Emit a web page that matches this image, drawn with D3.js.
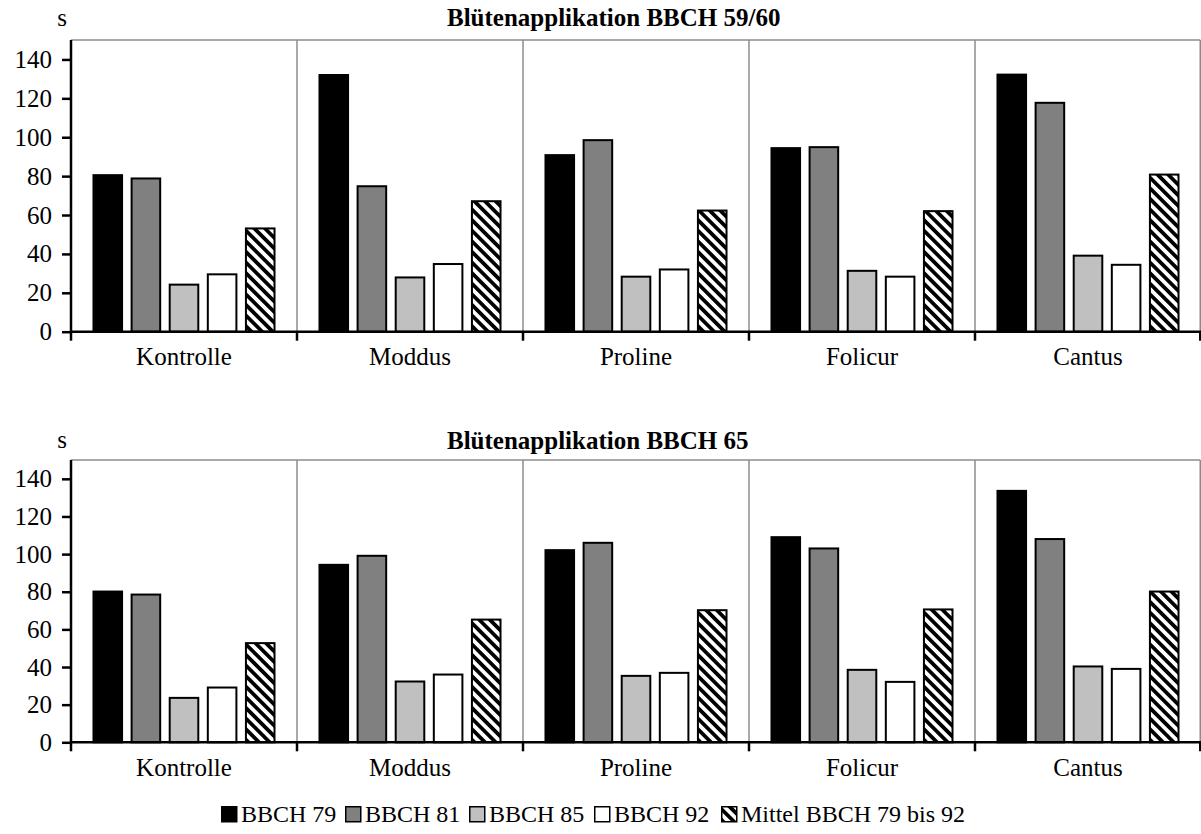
<!DOCTYPE html>
<html>
<head>
<meta charset="utf-8">
<script src="https://cdn.jsdelivr.net/npm/d3@7"></script>
<style>
  html, body { margin: 0; padding: 0; background: #fff; }
  svg { display: block; }
  text { font-family: "Liberation Serif", "DejaVu Serif", serif; fill: #000; }
</style>
</head>
<body>
<svg id="chart" width="1201" height="834"></svg>
<script>
// ---------- data ----------
const categories = ["Kontrolle", "Moddus", "Proline", "Folicur", "Cantus"];
const seriesNames = ["BBCH 79", "BBCH 81", "BBCH 85", "BBCH 92", "Mittel BBCH 79 bis 92"];
const yTicks = [0, 20, 40, 60, 80, 100, 120, 140];
const titleTop = "Blütenapplikation BBCH 59/60";
const titleBottom = "Blütenapplikation BBCH 65";
const unitLabel = "s";

// Blütenapplikation BBCH 59/60
const top_BBCH79 = [80.5, 132.0, 90.8, 94.4, 132.2];
const top_BBCH81 = [78.8, 74.8, 98.5, 94.9, 117.7];
const top_BBCH85 = [24.2, 27.9, 28.3, 31.3, 39.1];
const top_BBCH92 = [29.5, 34.8, 32.0, 28.3, 34.4];
const top_Mittel = [53.1, 67.1, 62.3, 62.0, 80.8];

// Blütenapplikation BBCH 65
const bot_BBCH79 = [80.1, 94.3, 102.1, 109.0, 133.6];
const bot_BBCH81 = [78.5, 99.1, 106.0, 103.0, 108.0];
const bot_BBCH85 = [23.6, 32.3, 35.3, 38.5, 40.3];
const bot_BBCH92 = [29.1, 36.0, 36.9, 32.1, 39.0];
const bot_Mittel = [52.7, 65.2, 70.2, 70.6, 80.1];

// ---------- styles ----------
const fills = ["#000000", "#808080", "#c0c0c0", "#ffffff", "url(#hatch)"];
const FONT = '"Liberation Serif", "DejaVu Serif", serif';
const tickFont = 25, catFont = 25, legendFont = 24, titleFont = 25;

const svg = d3.select("#chart");
const defs = svg.append("defs");
const pat = defs.append("pattern")
  .attr("id", "hatch")
  .attr("patternUnits", "userSpaceOnUse")
  .attr("width", 7.5).attr("height", 7.5)
  .attr("patternTransform", "rotate(45)");
pat.append("rect").attr("width", 7.5).attr("height", 7.5).attr("fill", "#fff");
pat.append("rect").attr("width", 7.5).attr("height", 3.75).attr("fill", "#000");

const xLeft = 71, xRight = 1201;

function drawPanel(cfg) {
  const data = categories.map((c, i) => ({
    cat: c,
    vals: cfg.series.map((s, j) => ({ key: seriesNames[j], value: s[i], idx: j }))
  }));

  const x0 = d3.scaleBand().domain(categories).range([xLeft, xRight]).padding(0);
  const x1 = d3.scaleBand().domain(seriesNames).range([0, x0.bandwidth()])
    .paddingInner(0.25).paddingOuter(0.59);
  const y = d3.scaleLinear().domain([0, 150]).range([cfg.y0, cfg.yTop]);

  const g = svg.append("g");

  // gray frame: top and right borders + dividers
  g.append("line").attr("x1", xLeft).attr("x2", xRight - 0.75)
    .attr("y1", y(150)).attr("y2", y(150))
    .attr("stroke", "#8c8c8c").attr("stroke-width", 1.5);
  g.append("line").attr("x1", xRight - 0.75).attr("x2", xRight - 0.75)
    .attr("y1", y(150)).attr("y2", y(0))
    .attr("stroke", "#8c8c8c").attr("stroke-width", 1.5);
  g.selectAll("line.div").data(categories.slice(1)).join("line")
    .attr("class", "div")
    .attr("x1", d => x0(d)).attr("x2", d => x0(d))
    .attr("y1", y(150)).attr("y2", y(0))
    .attr("stroke", "#8c8c8c").attr("stroke-width", 1.5);

  // bars
  const groups = g.selectAll("g.grp").data(data).join("g")
    .attr("class", "grp")
    .attr("transform", d => `translate(${x0(d.cat)},0)`);
  groups.selectAll("rect").data(d => d.vals).join("rect")
    .attr("x", d => x1(d.key))
    .attr("width", x1.bandwidth())
    .attr("y", d => y(d.value))
    .attr("height", d => y(0) - y(d.value))
    .attr("fill", d => fills[d.idx])
    .attr("stroke", "#000").attr("stroke-width", 2);

  // y axis
  const yAxis = d3.axisLeft(y).tickValues(yTicks).tickSize(9).tickPadding(10).tickSizeOuter(0);
  const ya = g.append("g").attr("transform", `translate(${xLeft},0)`).call(yAxis)
    .attr("font-family", FONT).attr("font-size", tickFont);
  ya.select(".domain").attr("stroke", "#000").attr("stroke-width", 2.5)
    .attr("d", `M0,${y(0)}V${y(150)}`);
  ya.selectAll(".tick line").attr("stroke", "#000").attr("stroke-width", 2.5);

  // x axis
  const xAxis = d3.axisBottom(x0).tickSize(0).tickPadding(16);
  const xa = g.append("g").attr("transform", `translate(0,${y(0)})`).call(xAxis)
    .attr("font-family", FONT).attr("font-size", catFont);
  xa.select(".domain").attr("stroke", "#000").attr("stroke-width", 2.5)
    .attr("d", `M${xLeft},0H${xRight}`);
  // boundary ticks between categories
  const bounds = categories.map(c => x0(c)).concat([xRight - 0.75]);
  xa.selectAll("line.bt").data(bounds).join("line")
    .attr("class", "bt")
    .attr("x1", d => d).attr("x2", d => d)
    .attr("y1", 0).attr("y2", 9)
    .attr("stroke", "#000").attr("stroke-width", 2.5);

  // title and unit
  svg.append("text").attr("x", 447).attr("y", cfg.titleY)
    .attr("text-anchor", "start").attr("font-weight", "bold").attr("font-size", titleFont)
    .text(cfg.title);
  svg.append("text").attr("x", 62).attr("y", cfg.unitY)
    .attr("text-anchor", "middle").attr("font-size", tickFont)
    .text(unitLabel);
}

drawPanel({
  series: [top_BBCH79, top_BBCH81, top_BBCH85, top_BBCH92, top_Mittel],
  y0: 331.7, yTop: 40, title: titleTop, titleY: 26, unitY: 26
});
drawPanel({
  series: [bot_BBCH79, bot_BBCH81, bot_BBCH85, bot_BBCH92, bot_Mittel],
  y0: 742.3, yTop: 460, title: titleBottom, titleY: 449, unitY: 448
});

// ---------- legend ----------
const legendX = [221, 345, 469, 594, 721];
const leg = svg.append("g");
const items = leg.selectAll("g").data(seriesNames).join("g")
  .attr("transform", (d, i) => `translate(${legendX[i]},806)`);
items.append("rect").attr("x", 0.75).attr("y", 0.75).attr("width", 15).attr("height", 15)
  .attr("fill", (d, i) => fills[i]).attr("stroke", "#000").attr("stroke-width", 1.5);
items.append("text").attr("x", 20).attr("y", 16)
  .attr("font-size", legendFont).text(d => d);
</script>
</body>
</html>
